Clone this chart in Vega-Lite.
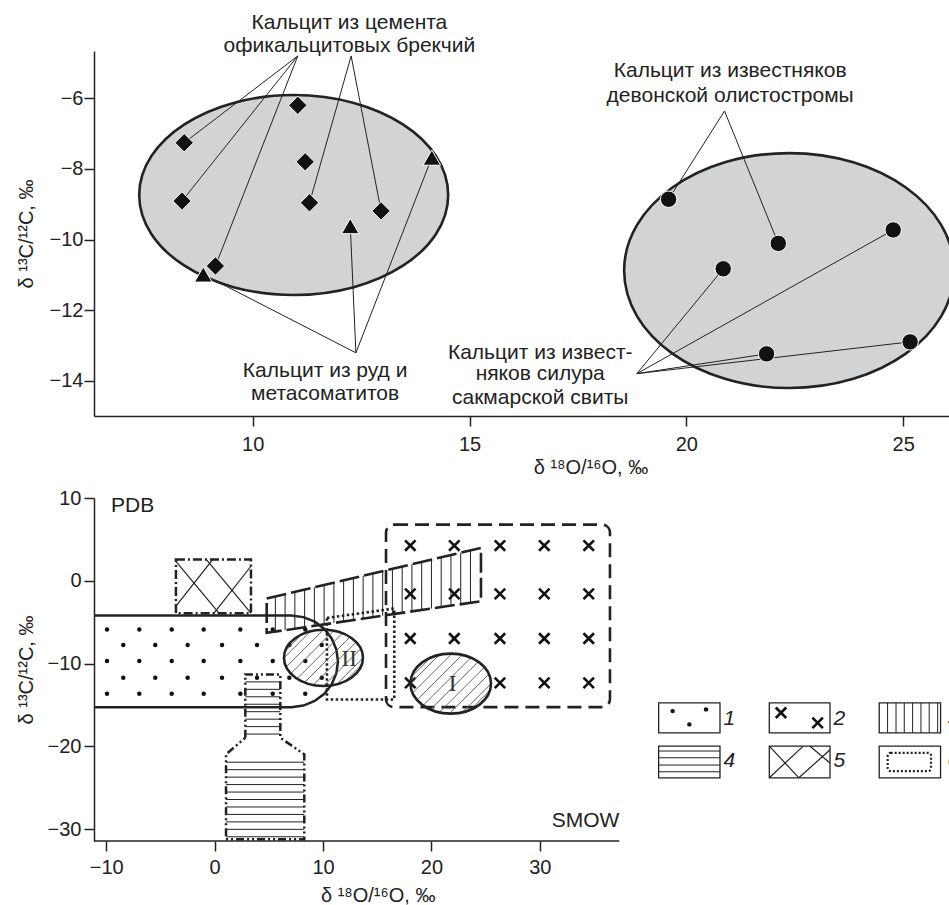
{
  "$schema": "https://vega.github.io/schema/vega-lite/v6.json",
  "padding": {"left": 16, "top": 11, "right": 0, "bottom": 0},
  "bounds": "flush",
  "spacing": 82,
  "config": {
    "view": {"stroke": null},
    "font": "Liberation Sans",
    "axis": {"grid": false, "labelFont": "Liberation Sans", "labelFontSize": 20, "labelColor": "#222", "titleFont": "Liberation Sans", "titleFontSize": 20, "titleFontWeight": "normal", "titleColor": "#222", "domainColor": "#222", "tickColor": "#222", "domainWidth": 1.5, "tickWidth": 1.5, "tickSize": 10}
  },
  "datasets": {
    "t_ell": [{"x": 10.945, "y": -8.74, "g": "L"}, {"x": 22.37, "y": -10.88, "g": "R"}],
    "t_dia": [{"x": 8.42, "y": -7.26}, {"x": 8.37, "y": -8.91}, {"x": 11.04, "y": -6.2}, {"x": 11.21, "y": -7.8}, {"x": 11.31, "y": -8.96}, {"x": 12.96, "y": -9.19}, {"x": 9.14, "y": -10.75}],
    "t_tri": [{"x": 12.25, "y": -9.62}, {"x": 14.13, "y": -7.68}, {"x": 8.86, "y": -10.99}],
    "t_cir": [{"x": 19.59, "y": -8.86}, {"x": 22.12, "y": -10.11}, {"x": 20.85, "y": -10.83}, {"x": 24.77, "y": -9.73}, {"x": 21.85, "y": -13.24}, {"x": 25.16, "y": -12.9}],
    "t_rules": [
      {"x": 11.04, "y": -4.8, "x2": 8.42, "y2": -7.26},
      {"x": 11.04, "y": -4.8, "x2": 8.37, "y2": -8.91},
      {"x": 11.04, "y": -4.8, "x2": 9.14, "y2": -10.75},
      {"x": 12.27, "y": -4.8, "x2": 11.31, "y2": -8.96},
      {"x": 12.27, "y": -4.8, "x2": 12.96, "y2": -9.19},
      {"x": 12.38, "y": -13.21, "x2": 8.86, "y2": -10.99},
      {"x": 12.38, "y": -13.21, "x2": 12.25, "y2": -9.62},
      {"x": 12.38, "y": -13.21, "x2": 14.13, "y2": -7.68},
      {"x": 20.88, "y": -6.36, "x2": 19.59, "y2": -8.86},
      {"x": 20.88, "y": -6.36, "x2": 22.12, "y2": -10.11},
      {"x": 18.86, "y": -13.8, "x2": 20.85, "y2": -10.83},
      {"x": 18.86, "y": -13.8, "x2": 24.77, "y2": -9.73},
      {"x": 18.86, "y": -13.8, "x2": 21.85, "y2": -13.24},
      {"x": 18.86, "y": -13.8, "x2": 25.16, "y2": -12.9}
    ],
    "t_text": [
      {"x": 12.23, "y": -3.86, "label": "Кальцит из цемента"},
      {"x": 12.23, "y": -4.52, "label": "офикальцитовых брекчий"},
      {"x": 21.01, "y": -5.23, "label": "Кальцит из известняков"},
      {"x": 21.01, "y": -5.93, "label": "девонской олистостромы"},
      {"x": 11.67, "y": -13.73, "label": "Кальцит из руд и"},
      {"x": 11.67, "y": -14.38, "label": "метасоматитов"},
      {"x": 16.63, "y": -13.21, "label": "Кальцит из извест-"},
      {"x": 16.63, "y": -13.81, "label": "няков силура"},
      {"x": 16.63, "y": -14.48, "label": "сакмарской свиты"}
    ],
    "b_r1": [
      {"i": 0, "x": -11.13, "y": -4.19}, {"i": 1, "x": 7.07, "y": -4.19}, {"i": 2, "x": 8.19, "y": -4.38}, {"i": 3, "x": 9.23, "y": -4.93}, {"i": 4, "x": 10.12, "y": -5.81}, {"i": 5, "x": 10.8, "y": -6.96}, {"i": 6, "x": 11.23, "y": -8.29}, {"i": 7, "x": 11.38, "y": -9.72}, {"i": 8, "x": 11.23, "y": -11.15}, {"i": 9, "x": 10.8, "y": -12.49}, {"i": 10, "x": 10.12, "y": -13.63}, {"i": 11, "x": 9.23, "y": -14.51}, {"i": 12, "x": 8.19, "y": -15.06}, {"i": 13, "x": 7.07, "y": -15.25}, {"i": 14, "x": -11.13, "y": -15.25}
    ],
    "b_dots": [
      {"x": -9.93, "y": -5.87}, {"x": -6.95, "y": -5.87}, {"x": -3.96, "y": -5.87}, {"x": -1.01, "y": -5.87}, {"x": 2.37, "y": -5.87}, {"x": 5.36, "y": -5.87}, {"x": 8.36, "y": -5.87},
      {"x": -8.43, "y": -7.76}, {"x": -5.48, "y": -7.76}, {"x": -2.49, "y": -7.76}, {"x": 0.68, "y": -7.76}, {"x": 3.91, "y": -7.76}, {"x": 6.89, "y": -7.76}, {"x": 9.88, "y": -7.76},
      {"x": -9.93, "y": -9.69}, {"x": -6.95, "y": -9.69}, {"x": -3.96, "y": -9.69}, {"x": -1.01, "y": -9.69}, {"x": 2.37, "y": -9.69}, {"x": 5.36, "y": -9.69}, {"x": 8.36, "y": -9.69},
      {"x": -8.43, "y": -11.71}, {"x": -5.48, "y": -11.71}, {"x": -2.49, "y": -11.71}, {"x": 0.68, "y": -11.71}, {"x": 3.91, "y": -11.71}, {"x": 6.89, "y": -11.71}, {"x": 9.88, "y": -11.71},
      {"x": -9.93, "y": -13.64}, {"x": -6.95, "y": -13.64}, {"x": -3.96, "y": -13.64}, {"x": -1.01, "y": -13.64}, {"x": 2.37, "y": -13.64}, {"x": 5.36, "y": -13.64}, {"x": 8.36, "y": -13.64},
      {"x": 42.25, "y": -15.73}, {"x": 45.33, "y": -15.52}, {"x": 43.79, "y": -17.33}
    ],
    "b_band": [{"i": 0, "x": 4.8, "y": -2.14}, {"i": 1, "x": 24.57, "y": 3.97}, {"i": 2, "x": 24.57, "y": -2.46}, {"i": 3, "x": 4.8, "y": -6.28}, {"i": 4, "x": 4.8, "y": -2.14}],
    "b_vstripes": [
      {"x": 5.6, "y": -6.13, "y2": -1.89}, {"x": 6.5, "y": -5.95, "y2": -1.61}, {"x": 7.4, "y": -5.78, "y2": -1.34}, {"x": 8.3, "y": -5.6, "y2": -1.06}, {"x": 9.2, "y": -5.43, "y2": -0.78}, {"x": 10.1, "y": -5.26, "y2": -0.5}, {"x": 11.0, "y": -5.08, "y2": -0.22}, {"x": 11.9, "y": -4.91, "y2": 0.05}, {"x": 12.8, "y": -4.74, "y2": 0.33}, {"x": 13.7, "y": -4.56, "y2": 0.61}, {"x": 14.6, "y": -4.39, "y2": 0.89}, {"x": 15.5, "y": -4.21, "y2": 1.17}, {"x": 16.4, "y": -4.04, "y2": 1.44}, {"x": 17.3, "y": -3.87, "y2": 1.72}, {"x": 18.2, "y": -3.69, "y2": 2.0}, {"x": 19.1, "y": -3.52, "y2": 2.28}, {"x": 20.0, "y": -3.35, "y2": 2.56}, {"x": 20.9, "y": -3.17, "y2": 2.83}, {"x": 21.8, "y": -3.0, "y2": 3.11}, {"x": 22.7, "y": -2.83, "y2": 3.39}, {"x": 23.6, "y": -2.65, "y2": 3.67},
      {"x": 62.08, "y": -18.35, "y2": -14.73}, {"x": 62.86, "y": -18.35, "y2": -14.73}, {"x": 63.62, "y": -18.35, "y2": -14.73}, {"x": 64.39, "y": -18.35, "y2": -14.73}, {"x": 65.16, "y": -18.35, "y2": -14.73}, {"x": 65.92, "y": -18.35, "y2": -14.73}, {"x": 66.7, "y": -18.35, "y2": -14.73}
    ],
    "b_bottle": [{"i": 0, "x": 2.83, "y": -18.95}, {"i": 1, "x": 2.83, "y": -11.3}, {"i": 2, "x": 6.06, "y": -11.3}, {"i": 3, "x": 6.06, "y": -18.95}, {"i": 4, "x": 8.27, "y": -20.95}, {"i": 5, "x": 8.27, "y": -31.2}, {"i": 6, "x": 1.05, "y": -31.2}, {"i": 7, "x": 1.05, "y": -20.95}, {"i": 8, "x": 2.83, "y": -18.95}],
    "b_hstripes": [
      {"x": 2.83, "x2": 6.06, "y": -12.2}, {"x": 2.83, "x2": 6.06, "y": -13.1}, {"x": 2.83, "x2": 6.06, "y": -14.0}, {"x": 2.83, "x2": 6.06, "y": -14.9}, {"x": 2.83, "x2": 6.06, "y": -15.8}, {"x": 2.83, "x2": 6.06, "y": -16.7}, {"x": 2.83, "x2": 6.06, "y": -17.6}, {"x": 2.83, "x2": 6.06, "y": -18.5},
      {"x": 1.05, "x2": 8.27, "y": -21.9}, {"x": 1.05, "x2": 8.27, "y": -22.8}, {"x": 1.05, "x2": 8.27, "y": -23.7}, {"x": 1.05, "x2": 8.27, "y": -24.6}, {"x": 1.05, "x2": 8.27, "y": -25.5}, {"x": 1.05, "x2": 8.27, "y": -26.4}, {"x": 1.05, "x2": 8.27, "y": -27.3}, {"x": 1.05, "x2": 8.27, "y": -28.2}, {"x": 1.05, "x2": 8.27, "y": -29.1}, {"x": 1.05, "x2": 8.27, "y": -30.0}, {"x": 1.05, "x2": 8.27, "y": -30.9},
      {"x": 40.96, "x2": 46.62, "y": -20.55}, {"x": 40.96, "x2": 46.62, "y": -21.36}, {"x": 40.96, "x2": 46.62, "y": -22.24}, {"x": 40.96, "x2": 46.62, "y": -23.05}
    ],
    "b_box5": [{"x": -3.57, "x2": 3.35, "y": -3.91, "y2": 2.57}],
    "b_xlines": [
      {"x": -3.57, "y": 2.36, "x2": 0.4, "y2": -3.91}, {"x": -0.8, "y": 2.61, "x2": 3.35, "y2": -3.91}, {"x": -3.57, "y": -3.06, "x2": -0.15, "y2": 2.61}, {"x": -0.06, "y": -3.91, "x2": 3.35, "y2": 1.76},
      {"x": 51.17, "y": -19.95, "x2": 53.9, "y2": -23.78}, {"x": 51.17, "y": -23.78, "x2": 54.3, "y2": -19.95}, {"x": 53.9, "y": -23.78, "x2": 56.77, "y2": -20.4}, {"x": 54.9, "y": -19.95, "x2": 56.77, "y2": -22.0}
    ],
    "b_box2": [{"x": 15.81, "x2": 36.47, "y": -15.25, "y2": 6.79}],
    "b_cross": [
      {"x": 18.05, "y": 4.26}, {"x": 22.11, "y": 4.26}, {"x": 26.32, "y": 4.26}, {"x": 30.41, "y": 4.26}, {"x": 34.51, "y": 4.26},
      {"x": 18.05, "y": -1.58}, {"x": 22.11, "y": -1.58}, {"x": 26.32, "y": -1.58}, {"x": 30.41, "y": -1.58}, {"x": 34.51, "y": -1.58},
      {"x": 18.05, "y": -6.96}, {"x": 22.11, "y": -6.96}, {"x": 26.32, "y": -6.96}, {"x": 30.41, "y": -6.96}, {"x": 34.51, "y": -6.96},
      {"x": 18.05, "y": -12.32}, {"x": 26.32, "y": -12.32}, {"x": 30.41, "y": -12.32}, {"x": 34.51, "y": -12.32},
      {"x": 52.25, "y": -15.93}, {"x": 55.63, "y": -17.14}
    ],
    "b_dotted": [{"i": 0, "x": 10.36, "y": -4.48}, {"i": 1, "x": 16.57, "y": -3.34}, {"i": 2, "x": 16.57, "y": -14.32}, {"i": 3, "x": 10.36, "y": -14.32}, {"i": 4, "x": 10.36, "y": -4.48}],
    "b_ell": [{"x": 10.04, "y": -9.3, "g": "II"}, {"x": 21.78, "y": -12.41, "g": "I"}],
    "b_roman": [{"x": 12.42, "y": -9.49, "label": "II"}, {"x": 21.96, "y": -12.51, "label": "I"}],
    "b_textL": [{"x": -9.56, "y": 9.0, "label": "PDB"}],
    "b_textR": [{"x": 37.33, "y": -29.0, "label": "SMOW"}],
    "b_axis": [{"x": -11.13, "x2": 37.33, "y": -31.41}],
    "b_legrect": [
      {"x": 40.96, "x2": 46.62, "y": -18.35, "y2": -14.73}, {"x": 51.17, "x2": 56.77, "y": -18.35, "y2": -14.73}, {"x": 61.31, "x2": 66.97, "y": -18.35, "y2": -14.73},
      {"x": 40.96, "x2": 46.62, "y": -23.78, "y2": -19.95}, {"x": 51.17, "x2": 56.77, "y": -23.78, "y2": -19.95}, {"x": 61.31, "x2": 66.97, "y": -23.78, "y2": -19.95}
    ],
    "b_leginner": [{"x": 62.09, "x2": 66.09, "y": -22.97, "y2": -20.76}],
    "b_leglabels": [
      {"x": 46.95, "y": -16.7, "label": "1"}, {"x": 57.1, "y": -16.7, "label": "2"}, {"x": 67.6, "y": -16.7, "label": "3"},
      {"x": 46.95, "y": -21.77, "label": "4"}, {"x": 57.1, "y": -21.77, "label": "5"}, {"x": 67.6, "y": -21.77, "label": "6"}
    ]
  },
  "vconcat": [
    {
      "width": 856,
      "height": 365,
      "encoding": {
        "x": {"field": "x", "type": "quantitative", "scale": {"domain": [6.34, 26.08], "nice": false, "zero": false},
          "axis": {"values": [10, 15, 20, 25], "title": "δ ¹⁸O/¹⁶O, ‰", "titleX": 496.5, "titleY": 57, "titleBaseline": "alphabetic", "titleAlign": "center", "labelPadding": 8}},
        "y": {"field": "y", "type": "quantitative", "scale": {"domain": [-15, -4.66], "nice": false, "zero": false},
          "axis": {"values": [-6, -8, -10, -12, -14], "title": "δ ¹³C/¹²C, ‰", "titleX": -61.3, "titleY": 182.5, "titleBaseline": "alphabetic", "titleAngle": 270, "titleAlign": "center", "labelPadding": 1}}
      },
      "layer": [
        {"data": {"name": "t_ell"}, "transform": [{"filter": "datum.g == 'L'"}],
          "mark": {"type": "point", "shape": "M1,0C1,0.3573,0.5523,0.647,0,0.647C-0.5523,0.647,-1,0.3573,-1,0C-1,-0.3573,-0.5523,-0.647,0,-0.647C0.5523,-0.647,1,-0.3573,1,0Z", "size": 95481, "filled": true, "fill": "#d1d3d4", "stroke": "#222", "strokeWidth": 2.6, "opacity": 1, "clip": true}},
        {"data": {"name": "t_ell"}, "transform": [{"filter": "datum.g == 'R'"}],
          "mark": {"type": "point", "shape": "M1,0C1,0.3932,0.5523,0.712,0,0.712C-0.5523,0.712,-1,0.3932,-1,0C-1,-0.3932,-0.5523,-0.712,0,-0.712C0.5523,-0.712,1,-0.3932,1,0Z", "size": 108900, "filled": true, "fill": "#d1d3d4", "stroke": "#222", "strokeWidth": 2.6, "opacity": 1, "clip": true}},
        {"data": {"name": "t_rules"}, "mark": {"type": "rule", "stroke": "#222", "strokeWidth": 1}, "encoding": {"x2": {"field": "x2"}, "y2": {"field": "y2"}}},
        {"data": {"name": "t_dia"}, "mark": {"type": "point", "shape": "diamond", "size": 340, "filled": true, "fill": "#111", "stroke": "#fff", "strokeWidth": 1, "opacity": 1}},
        {"data": {"name": "t_tri"}, "mark": {"type": "point", "shape": "triangle-up", "size": 310, "filled": true, "fill": "#111", "stroke": "#fff", "strokeWidth": 1, "opacity": 1}},
        {"data": {"name": "t_cir"}, "mark": {"type": "point", "shape": "circle", "size": 270, "filled": true, "fill": "#111", "stroke": "#fff", "strokeWidth": 1, "opacity": 1}},
        {"data": {"name": "t_text"}, "mark": {"type": "text", "font": "Liberation Sans", "fontSize": 21, "fill": "#222", "align": "center", "baseline": "middle"}, "encoding": {"text": {"field": "label"}}}
      ]
    },
    {
      "width": 856,
      "height": 343,
      "encoding": {
        "x": {"field": "x", "type": "quantitative", "scale": {"domain": [-11.13, 67.84], "nice": false, "zero": false},
          "axis": {"values": [-10, 0, 10, 20, 30], "domain": false, "title": "δ ¹⁸O/¹⁶O, ‰", "titleX": 283.7, "titleY": 60, "titleBaseline": "alphabetic", "titleAlign": "center", "labelPadding": 6}},
        "y": {"field": "y", "type": "quantitative", "scale": {"domain": [-31.41, 10], "nice": false, "zero": false},
          "axis": {"values": [10, 0, -10, -20, -30], "title": "δ ¹³C/¹²C, ‰", "titleX": -61.3, "titleY": 171.5, "titleBaseline": "alphabetic", "titleAngle": 270, "titleAlign": "center", "labelPadding": 3}}
      },
      "layer": [
        {"data": {"name": "b_r1"}, "mark": {"type": "line", "stroke": "#222", "strokeWidth": 2.5}, "encoding": {"order": {"field": "i", "type": "quantitative"}}},
        {"data": {"name": "b_dots"}, "mark": {"type": "point", "shape": "circle", "size": 20, "filled": true, "fill": "#111", "opacity": 1}},
        {"data": {"name": "b_box5"}, "mark": {"type": "rect", "filled": false, "stroke": "#222", "strokeWidth": 2.5, "strokeDash": [9, 3, 2, 3]}, "encoding": {"x2": {"field": "x2"}, "y2": {"field": "y2"}}},
        {"data": {"name": "b_xlines"}, "mark": {"type": "rule", "stroke": "#222", "strokeWidth": 1.2}, "encoding": {"x2": {"field": "x2"}, "y2": {"field": "y2"}}},
        {"data": {"name": "b_band"}, "mark": {"type": "line", "stroke": "#222", "strokeWidth": 2.6, "strokeDash": [20, 5]}, "encoding": {"order": {"field": "i", "type": "quantitative"}}},
        {"data": {"name": "b_vstripes"}, "mark": {"type": "rule", "stroke": "#222", "strokeWidth": 1}, "encoding": {"y2": {"field": "y2"}}},
        {"data": {"name": "b_bottle"}, "mark": {"type": "line", "stroke": "#222", "strokeWidth": 2.5, "strokeDash": [8, 3, 2, 3, 2, 3]}, "encoding": {"order": {"field": "i", "type": "quantitative"}}},
        {"data": {"name": "b_hstripes"}, "mark": {"type": "rule", "stroke": "#222", "strokeWidth": 1}, "encoding": {"x2": {"field": "x2"}}},
        {"data": {"name": "b_box2"}, "mark": {"type": "rect", "filled": false, "stroke": "#222", "strokeWidth": 2.6, "strokeDash": [14, 7], "cornerRadius": 8}, "encoding": {"x2": {"field": "x2"}, "y2": {"field": "y2"}}},
        {"data": {"name": "b_cross"}, "mark": {"type": "point", "shape": "M-1,-1L1,1M-1,1L1,-1", "size": 110, "filled": false, "stroke": "#111", "strokeWidth": 2.6, "opacity": 1}},
        {"data": {"name": "b_dotted"}, "mark": {"type": "line", "stroke": "#222", "strokeWidth": 2.6, "strokeDash": [2.5, 2.5]}, "encoding": {"order": {"field": "i", "type": "quantitative"}}},
        {"data": {"name": "b_ell"}, "transform": [{"filter": "datum.g == 'II'"}],
          "mark": {"type": "point", "shape": "M-0.479,0.622L0.670,-0.527M-0.670,0.527L0.479,-0.622M-0.256,0.685L0.827,-0.398M-0.827,0.398L0.256,-0.685M0.005,0.709L0.945,-0.231M-0.945,0.231L-0.005,-0.709M0.331,0.669L1,0M-1,0L-0.331,-0.669M0.552,0.591L0.969,0.174M-0.969,-0.174L-0.552,-0.591", "size": 6241, "filled": false, "stroke": "#555", "strokeWidth": 0.9, "opacity": 1}},
        {"data": {"name": "b_ell"}, "transform": [{"filter": "datum.g == 'I'"}],
          "mark": {"type": "point", "shape": "M-0.502,0.645L0.685,-0.542M0.502,-0.645L-0.685,0.542M-0.285,0.714L0.837,-0.408M0.285,-0.714L-0.837,0.408M-0.031,0.745L0.949,-0.235M0.031,-0.745L-0.949,0.235M0.286,0.714L1,0M-0.286,-0.714L-1,0M0.496,0.647L0.974,0.169M-0.496,-0.647L-0.974,-0.169", "size": 6496, "filled": false, "stroke": "#555", "strokeWidth": 0.9, "opacity": 1}},
        {"data": {"name": "b_ell"}, "transform": [{"filter": "datum.g == 'II'"}],
          "mark": {"type": "point", "shape": "M1,0C1,0.3932,0.5523,0.712,0,0.712C-0.5523,0.712,-1,0.3932,-1,0C-1,-0.3932,-0.5523,-0.712,0,-0.712C0.5523,-0.712,1,-0.3932,1,0Z", "size": 6241, "filled": false, "stroke": "#222", "strokeWidth": 2.6, "opacity": 1}},
        {"data": {"name": "b_ell"}, "transform": [{"filter": "datum.g == 'I'"}],
          "mark": {"type": "point", "shape": "M1,0C1,0.4115,0.5523,0.745,0,0.745C-0.5523,0.745,-1,0.4115,-1,0C-1,-0.4115,-0.5523,-0.745,0,-0.745C0.5523,-0.745,1,-0.4115,1,0Z", "size": 6496, "filled": false, "stroke": "#222", "strokeWidth": 2.6, "opacity": 1}},
        {"data": {"name": "b_roman"}, "mark": {"type": "text", "font": "Liberation Serif", "fontSize": 23, "fill": "#333", "align": "center", "baseline": "middle"}, "encoding": {"text": {"field": "label"}}},
        {"data": {"name": "b_textL"}, "mark": {"type": "text", "font": "Liberation Sans", "fontSize": 21, "fill": "#222", "align": "left", "baseline": "middle"}, "encoding": {"text": {"field": "label"}}},
        {"data": {"name": "b_textR"}, "mark": {"type": "text", "font": "Liberation Sans", "fontSize": 21, "fill": "#222", "align": "right", "baseline": "middle"}, "encoding": {"text": {"field": "label"}}},
        {"data": {"name": "b_axis"}, "mark": {"type": "rule", "stroke": "#222", "strokeWidth": 1.5}, "encoding": {"x2": {"field": "x2"}}},
        {"data": {"name": "b_legrect"}, "mark": {"type": "rect", "filled": false, "stroke": "#222", "strokeWidth": 1.3}, "encoding": {"x2": {"field": "x2"}, "y2": {"field": "y2"}}},
        {"data": {"name": "b_leginner"}, "mark": {"type": "rect", "filled": false, "stroke": "#222", "strokeWidth": 2.2, "strokeDash": [2, 2], "cornerRadius": 3}, "encoding": {"x2": {"field": "x2"}, "y2": {"field": "y2"}}},
        {"data": {"name": "b_leglabels"}, "mark": {"type": "text", "font": "Liberation Sans", "fontSize": 21, "fontStyle": "italic", "fill": "#222", "align": "left", "baseline": "middle", "clip": true}, "encoding": {"text": {"field": "label"}}}
      ]
    }
  ]
}
